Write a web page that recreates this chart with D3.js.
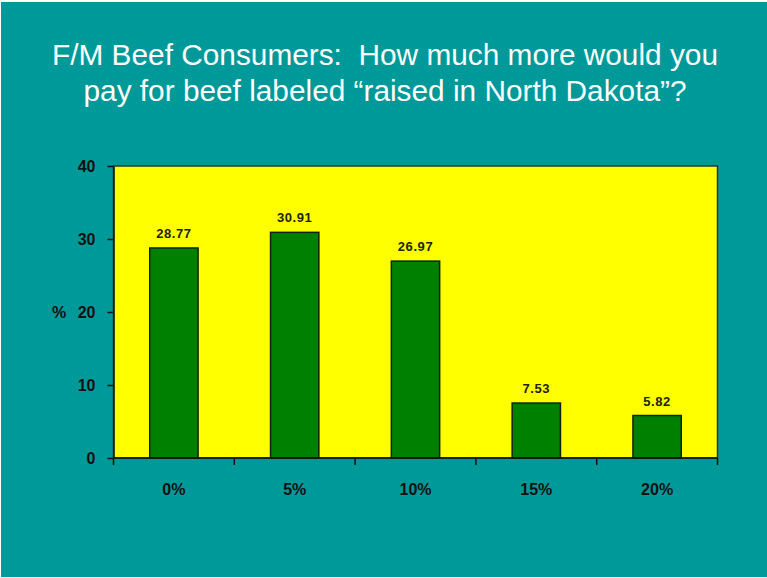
<!DOCTYPE html>
<html>
<head>
<meta charset="utf-8">
<script src="https://cdn.jsdelivr.net/npm/d3@7"></script>
<style>
  html, body { margin: 0; padding: 0; background: #ffffff; }
  svg { display: block; }
</style>
</head>
<body>
<svg id="chart" width="767" height="578"></svg>
<script>
// Survey responses: extra price premium respondents would pay
const categories = ["0%", "5%", "10%", "15%", "20%"];
const percentages = [28.77, 30.91, 26.97, 7.53, 5.82];
const yTicks = [0, 10, 20, 30, 40];
const titleLines = [
  "F/M Beef Consumers:  How much more would you",
  "pay for beef labeled \u201craised in North Dakota\u201d?"
];
const titleWidths = [666, 603];

const svg = d3.select("#chart");
const W = 767, H = 578;
const font = "'Liberation Sans', Arial, sans-serif";

// slide background
svg.append("rect")
  .attr("x", 1).attr("y", 2)
  .attr("width", W - 1).attr("height", H - 3)
  .attr("fill", "#009999");

// title
svg.append("g")
  .selectAll("text")
  .data(titleLines)
  .join("text")
  .attr("x", 385)
  .attr("y", (d, i) => 65 + i * 36)
  .attr("text-anchor", "middle")
  .attr("fill", "#ffffff")
  .attr("font-family", font)
  .attr("font-size", 29.5)
  .attr("textLength", (d, i) => titleWidths[i])
  .attr("lengthAdjust", "spacingAndGlyphs")
  .style("white-space", "pre")
  .text(d => d);

const plot = { left: 113.5, right: 717.5, top: 166, bottom: 458 };

const x = d3.scaleBand()
  .domain(categories)
  .range([plot.left, plot.right])
  .paddingInner(0.6)
  .paddingOuter(0.3);

const xBand = d3.scaleBand()
  .domain(categories)
  .range([plot.left, plot.right]);

const y = d3.scaleLinear()
  .domain([0, 40])
  .range([plot.bottom, plot.top]);

// plot area
svg.append("rect")
  .attr("x", plot.left).attr("y", plot.top)
  .attr("width", plot.right - plot.left)
  .attr("height", plot.bottom - plot.top)
  .attr("fill", "#ffff00")
  .attr("stroke", "#1e3a3a")
  .attr("stroke-width", 1.5);

// bars
svg.append("g")
  .selectAll("rect")
  .data(percentages)
  .join("rect")
  .attr("x", (d, i) => x(categories[i]))
  .attr("y", d => y(d))
  .attr("width", x.bandwidth())
  .attr("height", d => y(0) - y(d))
  .attr("fill", "#008000")
  .attr("stroke", "#102010")
  .attr("stroke-width", 1.5);

// value labels
svg.append("g")
  .selectAll("text")
  .data(percentages)
  .join("text")
  .attr("x", (d, i) => x(categories[i]) + x.bandwidth() / 2)
  .attr("y", d => y(d) - 10)
  .attr("text-anchor", "middle")
  .attr("fill", "#222200")
  .attr("font-family", font)
  .attr("font-weight", "bold")
  .attr("font-size", 13)
  .attr("letter-spacing", 0.6)
  .text(d => d.toFixed(2));

// y axis
const yAxis = svg.append("g")
  .attr("transform", `translate(${plot.left},0)`)
  .call(d3.axisLeft(y).tickValues(yTicks).tickSize(6).tickPadding(12).tickSizeOuter(0));
yAxis.select(".domain").attr("stroke", "#111").attr("stroke-width", 1.5);
yAxis.selectAll(".tick line").attr("stroke", "#111").attr("stroke-width", 1.5);
yAxis.selectAll(".tick text")
  .attr("fill", "#111")
  .attr("font-family", font)
  .attr("font-weight", "bold")
  .attr("font-size", 16);

// y axis title
svg.append("text")
  .attr("x", 59)
  .attr("y", y(20))
  .attr("dy", "0.35em")
  .attr("text-anchor", "middle")
  .attr("fill", "#111")
  .attr("font-family", font)
  .attr("font-weight", "bold")
  .attr("font-size", 16)
  .text("%");

// x axis: boundary ticks between categories
const xAxisG = svg.append("g");
xAxisG.append("line")
  .attr("x1", plot.left).attr("x2", plot.right)
  .attr("y1", plot.bottom).attr("y2", plot.bottom)
  .attr("stroke", "#111").attr("stroke-width", 1.5);
const boundaries = categories.map(c => xBand(c)).concat([plot.right]);
xAxisG.selectAll("line.tick")
  .data(boundaries)
  .join("line")
  .attr("class", "tick")
  .attr("x1", d => d).attr("x2", d => d)
  .attr("y1", plot.bottom).attr("y2", plot.bottom + 7)
  .attr("stroke", "#111").attr("stroke-width", 1.5);

// category labels
svg.append("g")
  .selectAll("text")
  .data(categories)
  .join("text")
  .attr("x", d => xBand(d) + xBand.bandwidth() / 2)
  .attr("y", 495)
  .attr("text-anchor", "middle")
  .attr("fill", "#111")
  .attr("font-family", font)
  .attr("font-weight", "bold")
  .attr("font-size", 16)
  .text(d => d);
</script>
</body>
</html>
